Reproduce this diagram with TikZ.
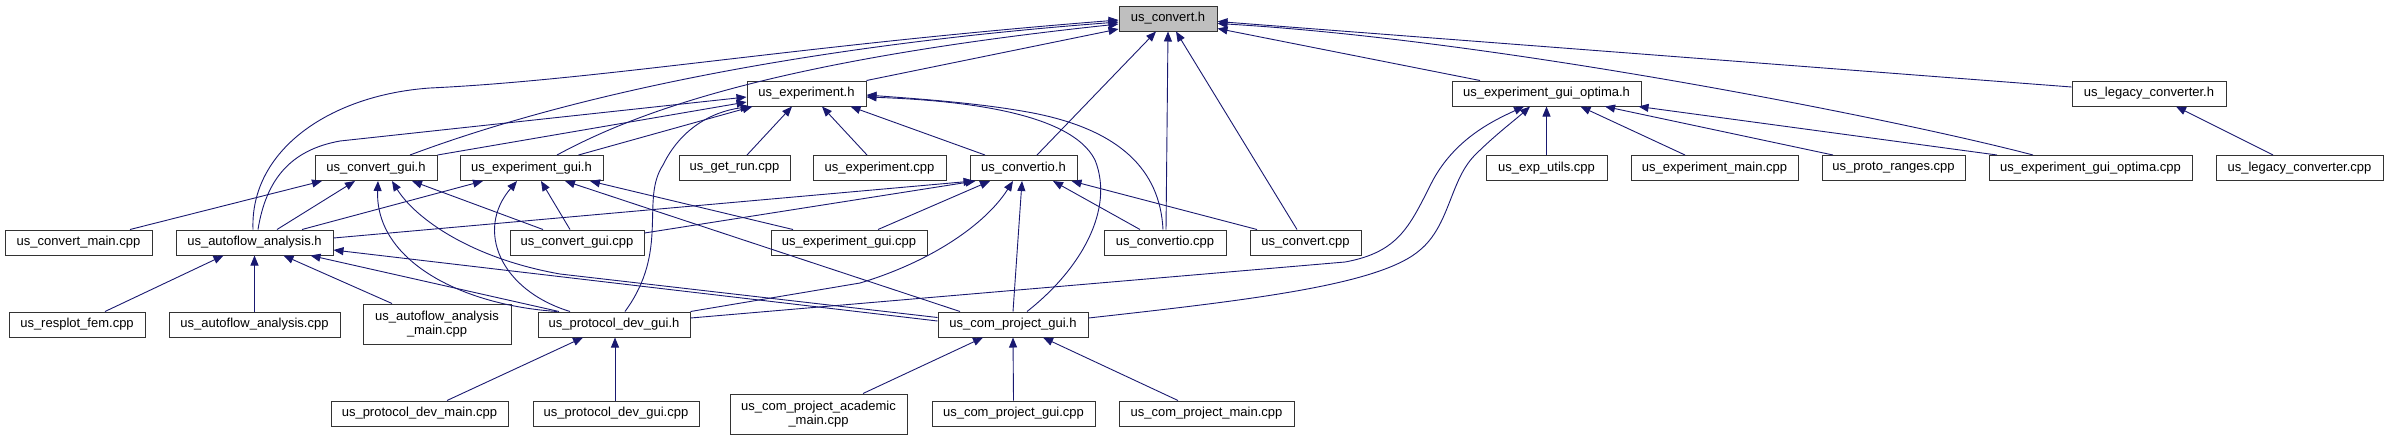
\documentclass[tikz,border=0pt]{standalone}
\usepackage{fontspec}
\setmainfont{Liberation Sans}
\usetikzlibrary{arrows.meta}
\definecolor{edgec}{HTML}{191970}
\definecolor{convfill}{HTML}{BFBFBF}
\newcommand\dxfont{\fontsize{13}{14.5}\selectfont}
\tikzset{
  box/.style={draw=black!80, line width=1pt, fill=white, inner sep=0pt, font=\dxfont, align=center, minimum height=25pt},
  dbox/.style={box, minimum height=40pt},
  dep/.style={draw=edgec, line width=0.9pt, -{Triangle[length=10pt,width=8pt]}},
}
\begin{document}
\begin{tikzpicture}[x=1pt,y=-1pt]
\useasboundingbox (0,0) rectangle (2389,440);
% row 0
\node[box, fill=convfill, minimum width=98pt] (convert) at (1168,18.5) {us\_convert.h};
% row 1
\node[box, minimum width=119pt] (experiment) at (806.5,93.5) {us\_experiment.h};
\node[box, minimum width=189pt] (egoh) at (1546.5,93.5) {us\_experiment\_gui\_optima.h};
\node[box, minimum width=154pt] (legh) at (2149,93.5) {us\_legacy\_converter.h};
% row 2
\node[box, minimum width=122pt] (cgui) at (376,168) {us\_convert\_gui.h};
\node[box, minimum width=143pt] (egui) at (531.5,168) {us\_experiment\_gui.h};
\node[box, minimum width=111pt] (getrun) at (734.5,168) {us\_get\_run.cpp};
\node[box, minimum width=133pt] (expcpp) at (879.5,168) {us\_experiment.cpp};
\node[box, minimum width=107pt] (cio) at (1023.5,168) {us\_convertio.h};
\node[box, minimum width=121pt] (exputils) at (1546.5,168) {us\_exp\_utils.cpp};
\node[box, minimum width=167pt] (expmain) at (1714.5,168) {us\_experiment\_main.cpp};
\node[box, minimum width=143pt] (proto) at (1893.5,168) {us\_proto\_ranges.cpp};
\node[box, minimum width=203pt] (egocpp) at (2090.5,168) {us\_experiment\_gui\_optima.cpp};
\node[box, minimum width=167pt] (legcpp) at (2299.5,168) {us\_legacy\_converter.cpp};
% row 3
\node[box, minimum width=147pt] (cmain) at (78.5,242.5) {us\_convert\_main.cpp};
\node[box, minimum width=157pt] (afh) at (254.5,242.5) {us\_autoflow\_analysis.h};
\node[box, minimum width=134pt] (cguicpp) at (577,242.5) {us\_convert\_gui.cpp};
\node[box, minimum width=156pt] (eguicpp) at (849,242.5) {us\_experiment\_gui.cpp};
\node[box, minimum width=122pt] (ciocpp) at (1165,242.5) {us\_convertio.cpp};
\node[box, minimum width=111pt] (ccpp) at (1305.5,242.5) {us\_convert.cpp};
% row 4
\node[box, minimum width=136pt] (resplot) at (77,324.5) {us\_resplot\_fem.cpp};
\node[box, minimum width=171pt] (afcpp) at (254.5,324.5) {us\_autoflow\_analysis.cpp};
\node[dbox, minimum width=148pt] (afmain) at (437,324) {us\_autoflow\_analysis\\\_main.cpp};
\node[box, minimum width=152pt] (pdg) at (614,324.5) {us\_protocol\_dev\_gui.h};
\node[box, minimum width=150pt] (cpg) at (1013,324.5) {us\_com\_project\_gui.h};
% row 5
\node[box, minimum width=177pt] (pdmain) at (419.5,413.5) {us\_protocol\_dev\_main.cpp};
\node[box, minimum width=166pt] (pdcpp) at (616,413.5) {us\_protocol\_dev\_gui.cpp};
\node[dbox, minimum width=177pt] (acad) at (818.5,414) {us\_com\_project\_academic\\\_main.cpp};
\node[box, minimum width=163pt] (cpgcpp) at (1013.5,413.5) {us\_com\_project\_gui.cpp};
\node[box, minimum width=175pt] (cpmain) at (1206.5,413.5) {us\_com\_project\_main.cpp};

% ---- edges into us_convert.h
\draw[dep] ([xshift=-1.5pt]afh.north) .. controls (250,150) and (330,95) .. (430,88) .. controls (600,80) and (800,45) .. ([yshift=-1.5pt]convert.west);
\draw[dep] ([xshift=34pt]cgui.north) .. controls (530,110) and (750,50) .. ([yshift=-3.5pt]convert.west);
\draw[dep] ([xshift=25.5pt]egui.north) .. controls (640,110) and (780,60) .. ([yshift=-5.5pt]convert.west);
\draw[dep] (experiment.north east) -- ([yshift=-10.5pt]convert.west);
\draw[dep] ([xshift=13.5pt]cio.north) -- ([xshift=-12pt]convert.south);
\draw[dep] ([xshift=1pt]ciocpp.north) -- (convert.south);
\draw[dep] ([xshift=-8.5pt]ccpp.north) -- ([xshift=8pt]convert.south);
\draw[dep] ([xshift=-66.5pt]egoh.north) -- ([yshift=-10pt]convert.east);
\draw[dep] ([xshift=-57.5pt]egocpp.north) .. controls (1900,120) and (1500,40) .. ([yshift=-5pt]convert.east);
\draw[dep] ([yshift=6.5pt]legh.west) -- ([yshift=-3pt]convert.east);

% ---- edges into us_experiment.h
\draw[dep] ([xshift=3.5pt]afh.north) .. controls (266,180) and (290,150) .. (340,141) -- ([yshift=-3.5pt]experiment.west);
\draw[dep] (cgui.north east) -- ([yshift=-8.5pt]experiment.west);
\draw[dep] ([xshift=47pt]egui.north) -- ([xshift=6pt]experiment.south west);
\draw[dep] ([xshift=11pt]pdg.north) .. controls (670,250) and (640,200) .. (663,165) .. controls (680,130) and (710,112) .. ([xshift=4pt]experiment.south west);
\draw[dep] ([xshift=12.5pt]getrun.north) -- ([xshift=-14.5pt]experiment.south);
\draw[dep] ([xshift=-12.5pt]expcpp.north) -- ([xshift=15.5pt]experiment.south);
\draw[dep] ([xshift=-38.5pt]cio.north) -- ([xshift=44pt]experiment.south);
\draw[dep] ([xshift=14pt]cpg.north) .. controls (1080,270) and (1115,210) .. (1095,160) .. controls (1070,110) and (950,100) .. ([yshift=-3.5pt]experiment.east);
\draw[dep] ([xshift=-2pt]ciocpp.north) .. controls (1160,170) and (1120,130) .. (1033,113) .. controls (980,103) and (920,99) .. ([yshift=-1.5pt]experiment.east);

% ---- edges into us_convert_gui.h
\draw[dep] ([xshift=51.5pt]cmain.north) -- ([xshift=-54pt]cgui.south);
\draw[dep] ([xshift=22.5pt]afh.north) -- ([xshift=-21pt]cgui.south);
\draw[dep] ([xshift=-57pt]pdg.north) .. controls (460,305) and (375,260) .. ([xshift=2pt]cgui.south);
\draw[dep] ([yshift=7pt]cpg.west) -- (560,274) .. controls (470,258) and (415,218) .. ([xshift=16pt]cgui.south);
\draw[dep] ([xshift=-34pt]cguicpp.north) -- ([xshift=36pt]cgui.south);

% ---- edges into us_experiment_gui.h
\draw[dep] ([xshift=47.5pt]afh.north) -- ([xshift=-48.5pt]egui.south);
\draw[dep] ([xshift=-44pt]pdg.north) .. controls (500,290) and (475,230) .. ([xshift=-14.5pt]egui.south);
\draw[dep] ([xshift=-7pt]cguicpp.north) -- ([xshift=9.5pt]egui.south);
\draw[dep] ([xshift=-53pt]cpg.north) -- ([xshift=33.5pt]egui.south);
\draw[dep] ([xshift=-56pt]eguicpp.north) -- ([xshift=58.5pt]egui.south);

% ---- edges into us_convertio.h
\draw[dep] ([yshift=4.5pt]afh.east) -- ([xshift=-50pt]cio.south);
\draw[dep] ([yshift=9.5pt]cguicpp.east) -- ([xshift=-48pt]cio.south);
\draw[dep] ([xshift=29pt]eguicpp.north) -- ([xshift=-33.5pt]cio.south);
\draw[dep] (pdg.north east) -- (860,283) .. controls (930,262) and (985,225) .. ([xshift=-10.5pt]cio.south);
\draw[dep] (cpg.north) -- ([xshift=-1.5pt]cio.south);
\draw[dep] ([xshift=-25pt]ciocpp.north) -- ([xshift=29.5pt]cio.south);
\draw[dep] ([xshift=-48.5pt]ccpp.north) -- ([xshift=48pt]cio.south);

% ---- edges into us_autoflow_analysis.h
\draw[dep] ([xshift=28pt]resplot.north) -- ([xshift=-31pt]afh.south);
\draw[dep] (afcpp.north) -- (afh.south);
\draw[dep] ([xshift=-45pt]afmain.north) -- ([xshift=29pt]afh.south);
\draw[dep] ([xshift=-55pt]pdg.north) -- ([xshift=56pt]afh.south);
\draw[dep] ([yshift=3.5pt]cpg.west) -- ([yshift=-7.5pt]afh.east);

% ---- edges into us_experiment_gui_optima.h
\draw[dep] ([yshift=6.5pt]pdg.east) -- (1345,262) .. controls (1400,252) and (1410,225) .. (1433,180) .. controls (1455,140) and (1490,122) .. ([xshift=-22.5pt]egoh.south);
\draw[dep] ([yshift=6.5pt]cpg.east) .. controls (1250,300) and (1380,285) .. (1420,250) .. controls (1450,225) and (1450,180) .. (1475,155) .. controls (1495,135) and (1515,120) .. ([xshift=-16.5pt]egoh.south);
\draw[dep] (exputils.north) -- (egoh.south);
\draw[dep] ([xshift=-29.5pt]expmain.north) -- ([xshift=34pt]egoh.south);
\draw[dep] ([xshift=-60.5pt]proto.north) -- ([xshift=58.5pt]egoh.south);
\draw[dep] ([xshift=-93.5pt]egocpp.north) -- ([xshift=-3pt]egoh.south east);

% ---- remaining
\draw[dep] ([xshift=-26.5pt]legcpp.north) -- ([xshift=27pt]legh.south);
\draw[dep] ([xshift=27.5pt]pdmain.north) -- ([xshift=-31pt]pdg.south);
\draw[dep] ([xshift=-1pt]pdcpp.north) -- ([xshift=1pt]pdg.south);
\draw[dep] ([xshift=44.5pt]acad.north) -- ([xshift=-30pt]cpg.south);
\draw[dep] (cpgcpp.north) -- (cpg.south);
\draw[dep] ([xshift=-28.5pt]cpmain.north) -- ([xshift=30pt]cpg.south);
\end{tikzpicture}
\end{document}
